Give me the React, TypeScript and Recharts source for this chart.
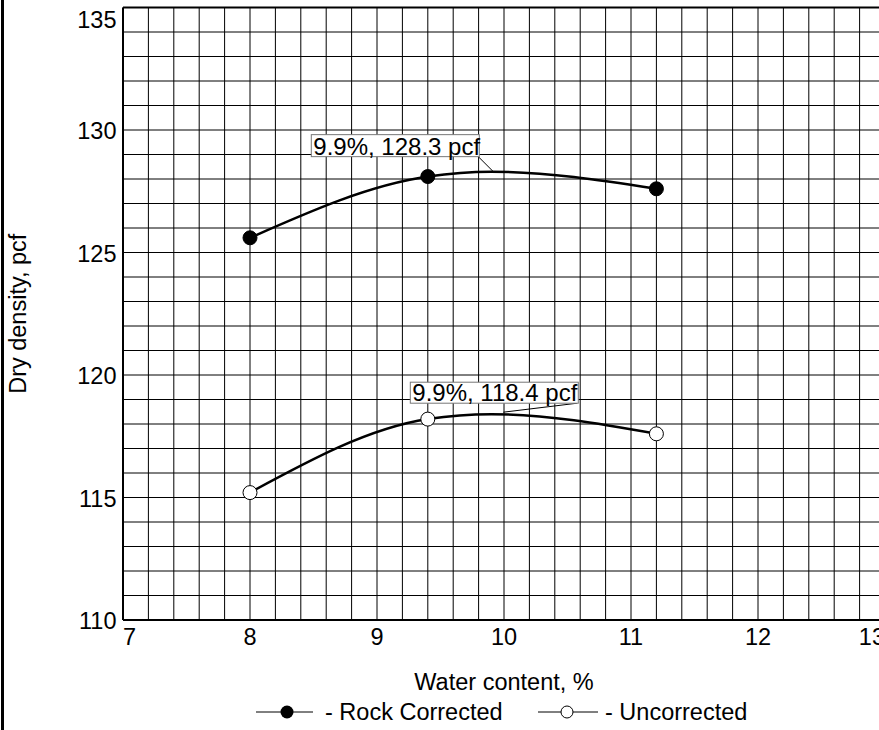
import React from 'react';
import {
  ComposedChart,
  Line,
  Scatter,
  XAxis,
  YAxis,
  CartesianGrid,
  ReferenceLine,
  ReferenceDot,
  Label,
} from 'recharts';

// measured points
const waterContent = [8, 9.4, 11.2];
const rockCorrected = [125.6, 128.1, 127.6];
const uncorrected = [115.2, 118.2, 117.6];

// optimum (peak of each curve), as printed on the chart
const optimumWater = [9.9, 9.9];
const maxDryDensity = [128.3, 118.4];
const peakLabels = ['9.9%, 128.3 pcf', '9.9%, 118.4 pcf'];

// axes
const xLabels = ['7', '8', '9', '10', '11', '12', '13'];
const yLabels = ['110', '115', '120', '125', '130', '135'];
const xGrid = Array.from({ length: 31 }, (_, i) => Math.round((7 + i * 0.2) * 10) / 10);
const yGrid = Array.from({ length: 26 }, (_, i) => 110 + i);

const FONT = '"Liberation Sans", Arial, Helvetica, sans-serif';
const FS = 23.5;

const points = (ys: number[]) => waterContent.map((x, i) => ({ x, y: ys[i] }));
const curve = (ys: number[], k: number) =>
  [...points(ys), { x: optimumWater[k], y: maxDryDensity[k] }].sort((a, b) => a.x - b.x);

const rockPts = points(rockCorrected);
const uncPts = points(uncorrected);
const rockCurve = curve(rockCorrected, 0);
const uncCurve = curve(uncorrected, 1);

// callout layout (pixel offsets from the peak)
const callouts = [
  { box: { x: -180, y: -37, w: 168, h: 22 }, tip: { x: 2, y: 0 } },
  { box: { x: -81, y: -32, w: 168, h: 21 }, tip: { x: 12, y: -2 } },
];

const XTick = (props: any) => {
  const { x, y, payload } = props;
  const v = payload.value;
  if (!Number.isInteger(v) || !xLabels.includes(String(v))) return <g />;
  const first = String(v) === xLabels[0];
  const last = String(v) === xLabels[xLabels.length - 1];
  return (
    <text
      x={x}
      y={y}
      dy="0.71em"
      textAnchor={first ? 'start' : last ? 'end' : 'middle'}
      fontSize={FS}
      fontFamily={FONT}
      fill="#000"
    >
      {String(v)}
    </text>
  );
};

const YTick = (props: any) => {
  const { x, y, payload } = props;
  const v = payload.value;
  if (!yLabels.includes(String(v))) return <g />;
  const top = String(v) === yLabels[yLabels.length - 1];
  return (
    <text x={x + 1.5} y={y + (top ? 20 : 9)} textAnchor="end" fontSize={FS} fontFamily={FONT} fill="#000">
      {String(v)}
    </text>
  );
};

const Callout = ({ cx, cy, text, k }: any) => {
  const { box, tip } = callouts[k];
  const bx = cx + box.x;
  const by = cy + box.y;
  return (
    <g>
      <line x1={bx + box.w - 1} y1={by + box.h} x2={cx + tip.x} y2={cy + tip.y} stroke="#000" strokeWidth={1} />
      <rect x={bx} y={by} width={box.w} height={box.h} fill="#fff" stroke="#777" strokeWidth={1} />
      <text x={bx + 2} y={by + box.h - 2} fontSize={24} fontFamily={FONT} fill="#000">
        {text}
      </text>
    </g>
  );
};

export default function App() {
  return (
    <div
      style={{
        position: 'absolute',
        left: 0,
        top: 0,
        width: 879,
        height: 730,
        overflow: 'hidden',
        background: '#fff',
        fontFamily: FONT,
      }}
    >
      <div style={{ position: 'absolute', left: 1, top: 0, width: 2.5, height: 730, background: '#000' }} />
      <ComposedChart width={900} height={730} margin={{ top: 7.5, right: 15, bottom: 0, left: 0 }}>
        <CartesianGrid stroke="#000" strokeWidth={1} />
        <XAxis
          dataKey="x"
          type="number"
          domain={[7, 13]}
          ticks={xGrid}
          interval={0}
          tick={XTick}
          tickLine={false}
          axisLine={{ stroke: '#000', strokeWidth: 2 }}
          height={110}
          allowDataOverflow
        >
          <Label
            content={(p: any) => {
              const vb = p.viewBox;
              return (
                <text x={vb.x + vb.width / 2} y={vb.y + 70} textAnchor="middle" fontSize={FS} fontFamily={FONT} fill="#000">
                  Water content, %
                </text>
              );
            }}
          />
        </XAxis>
        <YAxis
          dataKey="y"
          type="number"
          domain={[110, 135]}
          ticks={yGrid}
          interval={0}
          tick={YTick}
          tickLine={false}
          axisLine={{ stroke: '#000', strokeWidth: 2 }}
          width={123}
          allowDataOverflow
        >
          <Label
            content={(p: any) => {
              const vb = p.viewBox;
              const cy = vb.y + vb.height / 2;
              return (
                <text
                  x={26}
                  y={cy}
                  transform={`rotate(-90, 26, ${cy})`}
                  textAnchor="middle"
                  fontSize={FS}
                  fontFamily={FONT}
                  fill="#000"
                >
                  Dry density, pcf
                </text>
              );
            }}
          />
        </YAxis>
        <ReferenceLine y={135} stroke="#000" strokeWidth={2} />
        <ReferenceLine x={13} stroke="#000" strokeWidth={2} />

        <Line data={rockCurve} dataKey="y" type="monotone" stroke="#000" strokeWidth={2.5} dot={false} activeDot={false} isAnimationActive={false} />
        <Line data={uncCurve} dataKey="y" type="monotone" stroke="#000" strokeWidth={2.5} dot={false} activeDot={false} isAnimationActive={false} />

        {optimumWater.map((w, k) => (
          <ReferenceDot
            key={k}
            x={w}
            y={maxDryDensity[k]}
            r={0}
            shape={(p: any) => <Callout cx={p.cx} cy={p.cy} text={peakLabels[k]} k={k} />}
          />
        ))}

        <Scatter
          data={rockPts}
          dataKey="y"
          isAnimationActive={false}
          shape={(p: any) => <circle cx={p.cx} cy={p.cy} r={7} fill="#000" stroke="#000" />}
        />
        <Scatter
          data={uncPts}
          dataKey="y"
          isAnimationActive={false}
          shape={(p: any) => <circle cx={p.cx} cy={p.cy} r={7} fill="#fff" stroke="#000" strokeWidth={1} />}
        />
      </ComposedChart>

      {/* legend */}
      <svg style={{ position: 'absolute', left: 256, top: 704 }} width={57} height={16}>
        <line x1={0} y1={8} x2={57} y2={8} stroke="#000" strokeWidth={1} />
        <circle cx={31} cy={8} r={6.5} fill="#000" />
      </svg>
      <div style={{ position: 'absolute', left: 325, top: 697, lineHeight: '30px', fontSize: FS, whiteSpace: 'nowrap' }}>
        - Rock Corrected
      </div>
      <svg style={{ position: 'absolute', left: 538, top: 704 }} width={60} height={16}>
        <line x1={0} y1={8} x2={60} y2={8} stroke="#000" strokeWidth={1} />
        <circle cx={29} cy={8} r={6} fill="#fff" stroke="#000" strokeWidth={1} />
      </svg>
      <div style={{ position: 'absolute', left: 605, top: 697, lineHeight: '30px', fontSize: FS, whiteSpace: 'nowrap' }}>
        - Uncorrected
      </div>
    </div>
  );
}
